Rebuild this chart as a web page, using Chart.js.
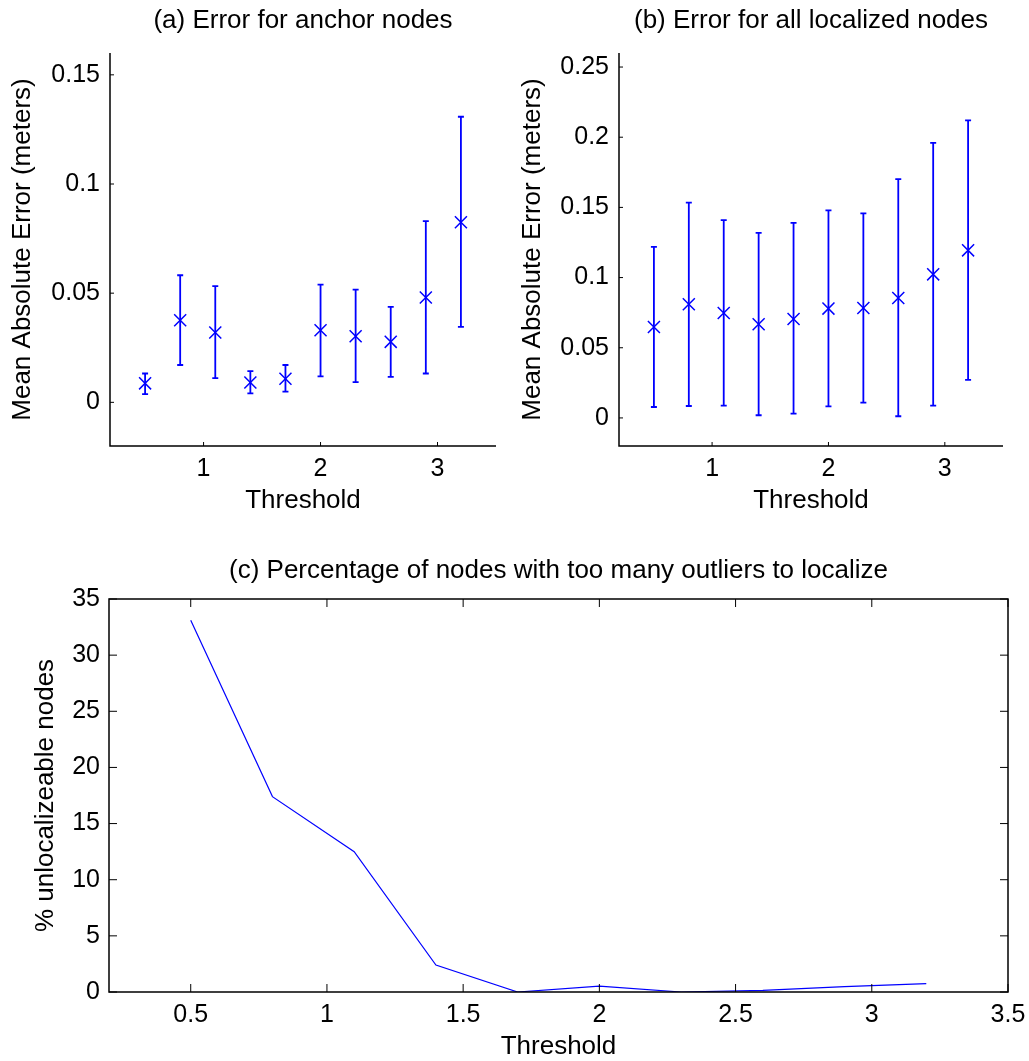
<!DOCTYPE html>
<html>
<head>
<meta charset="utf-8">
<script src="https://cdn.jsdelivr.net/npm/chart.js@4.4.1/dist/chart.umd.min.js"></script>
<style>
html, body { margin: 0; padding: 0; background: #fff; overflow: hidden; }
canvas { position: absolute; }
#chartA { left: 0; top: 0; }
#chartB { left: 510px; top: 0; }
#chartC { left: 0; top: 540px; }
</style>
</head>
<body>
<canvas id="chartA" width="510" height="515"></canvas>
<canvas id="chartB" width="519" height="515"></canvas>
<canvas id="chartC" width="1029" height="521"></canvas>
<script>
'use strict';

// thresholds shared by all three panels
var thresholds = [0.5, 0.8, 1.1, 1.4, 1.7, 2.0, 2.3, 2.6, 2.9, 3.2];

// (a) anchor nodes: mean and error bar ends
var anchorMean = [0.0087, 0.0376, 0.0320, 0.0091, 0.0108, 0.0330, 0.0303, 0.0277, 0.0480, 0.0825];
var anchorLow  = [0.0038, 0.0171, 0.0111, 0.0041, 0.0049, 0.0119, 0.0093, 0.0117, 0.0132, 0.0346];
var anchorHigh = [0.0132, 0.0582, 0.0532, 0.0143, 0.0171, 0.0539, 0.0516, 0.0437, 0.0830, 0.1308];

// (b) all localized nodes
var allMean = [0.0648, 0.0810, 0.0748, 0.0667, 0.0705, 0.0779, 0.0783, 0.0855, 0.1023, 0.1194];
var allLow  = [0.0078, 0.0085, 0.0088, 0.0019, 0.0031, 0.0083, 0.0109, 0.0012, 0.0088, 0.0271];
var allHigh = [0.1218, 0.1534, 0.1410, 0.1318, 0.1389, 0.1479, 0.1458, 0.1702, 0.1959, 0.2120];

// (c) percent of nodes that could not be localized
var unlocalizable = [33.1, 17.4, 12.5, 2.4, 0, 0.53, 0, 0.15, 0.47, 0.74];

// tick values
var xTicksTop = [1, 2, 3];
var xTicksBottom = [0.5, 1, 1.5, 2, 2.5, 3, 3.5];
var yTicksA = [0, 0.05, 0.1, 0.15];
var yTicksB = [0, 0.05, 0.1, 0.15, 0.2, 0.25];
var yTicksC = [0, 5, 10, 15, 20, 25, 30, 35];

var FONT = "'Liberation Sans', Arial, Helvetica, sans-serif";
var BLUE = '#0000ff';

Chart.defaults.font.family = FONT;
Chart.defaults.color = '#000';

function fixedAxis(size, vertical) {
    return function (scale) {
        if (vertical) { scale.width = size; } else { scale.height = size; }
        scale.paddingLeft = 0;
        scale.paddingRight = 0;
        scale.paddingTop = 0;
        scale.paddingBottom = 0;
    };
}

function setTicks(values) {
    return function (scale) {
        scale.ticks = values.map(function (v) { return { value: v }; });
    };
}

function plainLabel(v) { return String(v); }

// MATLAB style axes: inward ticks, optional full box
function matlabAxes(tickLength, box) {
    return {
        id: 'matlabAxes',
        afterDraw: function (chart) {
            var ctx = chart.ctx, a = chart.chartArea;
            var xs = chart.scales.x, ys = chart.scales.y;
            ctx.save();
            ctx.strokeStyle = '#000';
            ctx.lineWidth = 1.5;
            ctx.beginPath();
            if (box) {
                ctx.rect(a.left, a.top, a.right - a.left, a.bottom - a.top);
            } else {
                ctx.moveTo(a.left, a.top);
                ctx.lineTo(a.left, a.bottom);
                ctx.lineTo(a.right, a.bottom);
            }
            ctx.stroke();
            ctx.lineWidth = 1;
            ctx.beginPath();
            xs.ticks.forEach(function (t) {
                var x = xs.getPixelForValue(t.value);
                ctx.moveTo(x, a.bottom);
                ctx.lineTo(x, a.bottom - tickLength);
                if (box) {
                    ctx.moveTo(x, a.top);
                    ctx.lineTo(x, a.top + tickLength);
                }
            });
            ys.ticks.forEach(function (t) {
                var y = ys.getPixelForValue(t.value);
                ctx.moveTo(a.left, y);
                ctx.lineTo(a.left + tickLength, y);
                if (box) {
                    ctx.moveTo(a.right, y);
                    ctx.lineTo(a.right - tickLength, y);
                }
            });
            ctx.stroke();
            ctx.restore();
        }
    };
}

function errorBars(xs, lows, highs) {
    return {
        id: 'errorBars',
        beforeDatasetsDraw: function (chart) {
            var ctx = chart.ctx, sx = chart.scales.x, sy = chart.scales.y, cap = 3;
            ctx.save();
            ctx.strokeStyle = BLUE;
            ctx.lineWidth = 1.8;
            ctx.beginPath();
            xs.forEach(function (xv, i) {
                var x = sx.getPixelForValue(xv);
                var y1 = sy.getPixelForValue(lows[i]);
                var y2 = sy.getPixelForValue(highs[i]);
                ctx.moveTo(x, y1); ctx.lineTo(x, y2);
                ctx.moveTo(x - cap, y1); ctx.lineTo(x + cap, y1);
                ctx.moveTo(x - cap, y2); ctx.lineTo(x + cap, y2);
            });
            ctx.stroke();
            ctx.restore();
        }
    };
}

function points(xs, ys) {
    return xs.map(function (x, i) { return { x: x, y: ys[i] }; });
}

function errorChart(id, title, mean, low, high, yMin, yMax, yTicks, yAxisWidth, rightPad) {
    return new Chart(document.getElementById(id), {
        type: 'scatter',
        data: {
            datasets: [{
                data: points(thresholds, mean),
                pointStyle: 'crossRot',
                pointRadius: 8.5,
                pointHoverRadius: 8.5,
                borderColor: BLUE,
                backgroundColor: BLUE,
                borderWidth: 1.5,
                showLine: false
            }]
        },
        options: {
            responsive: false,
            animation: false,
            events: [],
            layout: { padding: { left: 0, right: rightPad, top: 0, bottom: 0 } },
            plugins: {
                legend: { display: false },
                tooltip: { enabled: false },
                title: {
                    display: true,
                    text: title,
                    fullSize: false,
                    font: { size: 26, weight: 'normal' },
                    padding: { top: 5.4, bottom: 16.4 }
                }
            },
            scales: {
                x: {
                    type: 'linear',
                    min: 0.2,
                    max: 3.5,
                    afterBuildTicks: setTicks(xTicksTop),
                    afterFit: fixedAxis(69, false),
                    grid: { display: false, drawTicks: false },
                    border: { display: false },
                    ticks: { font: { size: 25 }, padding: 8, maxRotation: 0, callback: plainLabel },
                    title: { display: true, text: 'Threshold', font: { size: 26, lineHeight: 1 }, padding: { top: 0, bottom: 1 } }
                },
                y: {
                    type: 'linear',
                    min: yMin,
                    max: yMax,
                    afterBuildTicks: setTicks(yTicks),
                    afterFit: fixedAxis(yAxisWidth, true),
                    grid: { display: false, drawTicks: false },
                    border: { display: false },
                    ticks: { font: { size: 25 }, padding: 10, callback: plainLabel },
                    title: { display: true, text: 'Mean Absolute Error (meters)', font: { size: 26, lineHeight: 1 }, padding: { top: 10, bottom: 0 } }
                }
            }
        },
        plugins: [matlabAxes(4, false), errorBars(thresholds, low, high)]
    });
}

var chartA = errorChart('chartA', '(a) Error for anchor nodes', anchorMean, anchorLow, anchorHigh,
    -0.02, 0.16, yTicksA, 110, 14);
var chartB = errorChart('chartB', '(b) Error for all localized nodes', allMean, allLow, allHigh,
    -0.02, 0.26, yTicksB, 109, 26);

var chartC = new Chart(document.getElementById('chartC'), {
    type: 'line',
    data: {
        datasets: [{
            data: points(thresholds, unlocalizable),
            borderColor: BLUE,
            borderWidth: 1.2,
            pointRadius: 0,
            pointHoverRadius: 0,
            fill: false,
            tension: 0
        }]
    },
    options: {
        responsive: false,
        animation: false,
        events: [],
        layout: { padding: { left: 0, right: 21, top: 0, bottom: 0 } },
        plugins: {
            legend: { display: false },
            tooltip: { enabled: false },
            title: {
                display: true,
                text: '(c) Percentage of nodes with too many outliers to localize',
                fullSize: false,
                font: { size: 26, weight: 'normal' },
                padding: { top: 15.4, bottom: 12.4 }
            }
        },
        scales: {
            x: {
                type: 'linear',
                min: 0.2,
                max: 3.5,
                afterBuildTicks: setTicks(xTicksBottom),
                afterFit: fixedAxis(69, false),
                grid: { display: false, drawTicks: false },
                border: { display: false },
                ticks: { font: { size: 25 }, padding: 8, maxRotation: 0, callback: plainLabel },
                title: { display: true, text: 'Threshold', font: { size: 26, lineHeight: 1 }, padding: { top: 0, bottom: 1 } }
            },
            y: {
                type: 'linear',
                min: 0,
                max: 35,
                afterBuildTicks: setTicks(yTicksC),
                afterFit: fixedAxis(109, true),
                grid: { display: false, drawTicks: false },
                border: { display: false },
                ticks: { font: { size: 25 }, padding: 9, callback: plainLabel },
                title: { display: true, text: '% unlocalizeable nodes', font: { size: 26, lineHeight: 1 }, padding: { top: 33, bottom: 0 } }
            }
        }
    },
    plugins: [matlabAxes(8, true)]
});
</script>
</body>
</html>
